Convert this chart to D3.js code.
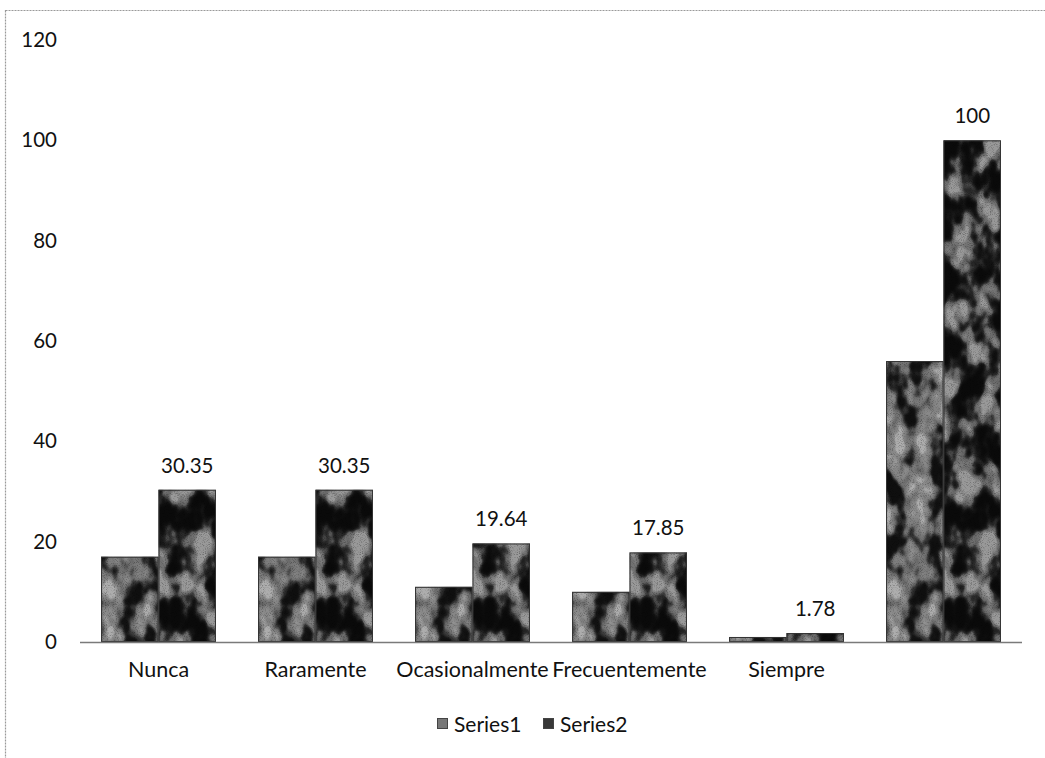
<!DOCTYPE html>
<html>
<head>
<meta charset="utf-8">
<script src="https://cdn.jsdelivr.net/npm/d3@7"></script>
<style>
  html, body { margin: 0; padding: 0; background: #ffffff; }
  svg { display: block; }
  text { font-family: Lato, "Open Sans", sans-serif; fill: #111111; }
</style>
</head>
<body>
<svg id="chart" width="1045" height="758"></svg>
<script>
// Categories and series values
const categories = ["Nunca", "Raramente", "Ocasionalmente", "Frecuentemente", "Siempre", ""];
const series1 = [17, 17, 11, 10, 1, 56];
const series2 = [30.35, 30.35, 19.64, 17.85, 1.78, 100];
const seriesNames = ["Series1", "Series2"];
const yTicks = [0, 20, 40, 60, 80, 100, 120];

const svg = d3.select("#chart");
const W = 1045, H = 758;
const plot = { left: 80, right: 1022, top: 40, bottom: 642 };
const FONT = "Lato, 'Open Sans', sans-serif";
const swatch = ["#777777", "#383838"];

// Mottled gray fills for the two series
const defs = svg.append("defs");
function mottleFilter(id, table, seed, grainAmt) {
  const f = defs.append("filter").attr("id", id)
    .attr("x", 0).attr("y", 0).attr("width", 1).attr("height", 1)
    .attr("color-interpolation-filters", "sRGB");
  f.append("feTurbulence").attr("type", "fractalNoise")
    .attr("baseFrequency", "0.045 0.03").attr("numOctaves", 3).attr("seed", seed)
    .attr("result", "blob");
  const k = 2.6, off = 0.5 - 0.5 * k;
  f.append("feColorMatrix").attr("in", "blob").attr("type", "matrix")
    .attr("values", `${k} 0 0 0 ${off}  ${k} 0 0 0 ${off}  ${k} 0 0 0 ${off}  0 0 0 0 1`)
    .attr("result", "blobGray");
  const ct = f.append("feComponentTransfer").attr("in", "blobGray").attr("result", "tone");
  ["feFuncR", "feFuncG", "feFuncB"].forEach(fn =>
    ct.append(fn).attr("type", "table").attr("tableValues", table));
  f.append("feTurbulence").attr("type", "fractalNoise")
    .attr("baseFrequency", 1.1).attr("numOctaves", 1).attr("seed", seed + 7)
    .attr("result", "grain");
  const g0 = 1 - grainAmt / 2;
  f.append("feColorMatrix").attr("in", "grain").attr("type", "matrix")
    .attr("values", `${grainAmt} 0 0 0 ${g0}  ${grainAmt} 0 0 0 ${g0}  ${grainAmt} 0 0 0 ${g0}  0 0 0 0 1`)
    .attr("result", "grainGray");
  f.append("feBlend").attr("in", "tone").attr("in2", "grainGray").attr("mode", "multiply")
    .attr("result", "tex");
  f.append("feComposite").attr("in", "tex").attr("in2", "SourceGraphic").attr("operator", "in");
}
mottleFilter("tex1", "0.06 0.09 0.22 0.42 0.5 0.55 0.68", 3, 1.0);
mottleFilter("tex2", "0.04 0.05 0.08 0.17 0.4 0.47 0.6", 11, 1.0);

// Chart border (dotted, light gray)
svg.append("rect")
  .attr("x", 5.5).attr("y", 10.5).attr("width", W + 20).attr("height", H + 20)
  .attr("fill", "none").attr("stroke", "#9a9a9a").attr("stroke-width", 1.2)
  .attr("stroke-dasharray", "2 1");

// Scales
const x0 = d3.scaleBand().domain(categories.map((c, i) => i))
  .range([plot.left, plot.right]).paddingInner(0.268).paddingOuter(0.134);
const x1 = d3.scaleBand().domain([0, 1]).range([0, x0.bandwidth()]).padding(0);
const y = d3.scaleLinear().domain([0, 120]).range([plot.bottom, plot.top]);

// Y axis labels (no axis line, no ticks)
const yAxis = d3.axisLeft(y).tickValues(yTicks).tickSize(0).tickPadding(0).tickFormat(d3.format("d"));
const gy = svg.append("g").attr("transform", `translate(${plot.left - 23},0)`).call(yAxis);
gy.select(".domain").remove();
gy.selectAll("text").style("font-size", "20.5px").style("font-family", FONT).attr("fill", "#111");

// Bars
const data = categories.map((c, i) => ({ i, vals: [series1[i], series2[i]] }));
const groups = svg.append("g").selectAll("g").data(data).join("g")
  .attr("transform", d => `translate(${x0(d.i)},0)`);

groups.selectAll("rect.bar").data(d => d.vals.map((v, s) => ({ v, s }))).join("rect")
  .attr("class", "bar")
  .attr("x", d => x1(d.s)).attr("width", x1.bandwidth())
  .attr("y", d => y(d.v)).attr("height", d => y(0) - y(d.v))
  .attr("fill", "#000").attr("filter", d => `url(#tex${d.s + 1})`);

groups.selectAll("rect.edge").data(d => d.vals.map((v, s) => ({ v, s }))).join("rect")
  .attr("class", "edge")
  .attr("x", d => x1(d.s) + 0.5).attr("width", x1.bandwidth() - 1)
  .attr("y", d => y(d.v) + 0.5).attr("height", d => Math.max(0, y(0) - y(d.v) - 1))
  .attr("fill", "none").attr("stroke", "#333").attr("stroke-width", 1);

// Horizontal axis line
svg.append("line")
  .attr("x1", plot.left).attr("x2", plot.right)
  .attr("y1", y(0) + 0.5).attr("y2", y(0) + 0.5)
  .attr("stroke", "#7a7a7a").attr("stroke-width", 1.3);

// Data labels for Series2
groups.append("text")
  .attr("x", x1(1) + x1.bandwidth() / 2)
  .attr("y", d => y(d.vals[1]) - 25)
  .attr("text-anchor", "middle").attr("dominant-baseline", "central")
  .style("font-size", "20.5px")
  .text(d => String(d.vals[1]));

// Category labels
const xAxis = d3.axisBottom(x0).tickSize(0).tickPadding(0).tickFormat(i => categories[i]);
const gx = svg.append("g").attr("transform", `translate(0,${plot.bottom + 20})`).call(xAxis);
gx.select(".domain").remove();
gx.selectAll("text").style("font-size", "21.5px").style("font-family", FONT).attr("fill", "#111");

// Legend
const legend = svg.append("g").attr("transform", "translate(437,723)");
const legendX = [0, 106];
seriesNames.forEach((name, s) => {
  const g = legend.append("g").attr("transform", `translate(${legendX[s]},0)`);
  g.append("rect").attr("x", 0.5).attr("y", -4.5).attr("width", 10).attr("height", 10)
    .attr("fill", swatch[s]).attr("stroke", "#444").attr("stroke-width", 1);
  g.append("text").attr("x", 17).attr("y", 0).attr("dominant-baseline", "central")
    .style("font-size", "21px").text(name);
});
</script>
</body>
</html>
